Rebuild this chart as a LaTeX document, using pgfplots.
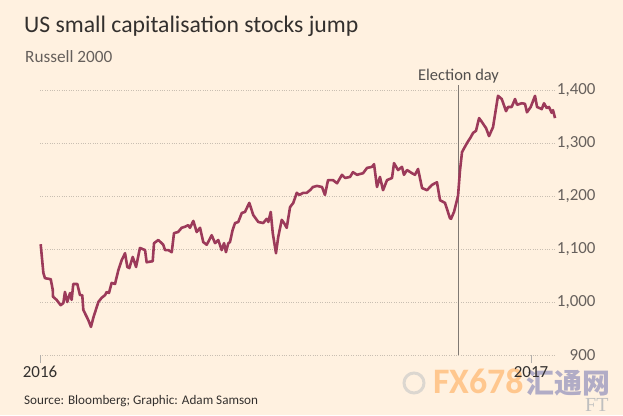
\documentclass[border=0pt]{standalone}
\usepackage{pgfplots}
\pgfplotsset{compat=1.18}
\usepackage{fontspec}
\setmainfont{Carlito}
\newfontfamily\cjk{Noto Sans CJK SC}
\newfontfamily\serifft{Liberation Serif}
\definecolor{bg}{HTML}{FFF1E0}
\definecolor{linec}{HTML}{9C3A5A}
\definecolor{titlec}{HTML}{33302E}
\definecolor{textc}{HTML}{66605C}
\definecolor{gridc}{HTML}{C9BFB2}
\definecolor{evc}{HTML}{807973}
\pgfplotstableread{
day value
0.5 1109
2.5 1055
3.7 1045
8.0 1043
9.5 1023
9.7 1010
12.4 1004
15.4 994
17.4 998
18.6 1019
20.3 1000
22.4 1017
23.6 1004
24.8 1034
27.8 1034
29.8 1013
31.5 1013
32.3 985
36.0 966
38.0 953
39.7 970
43.5 1000
46.0 1008
48.5 1013
49.7 1019
51.4 1017
53.4 1036
55.9 1034
58.4 1060
60.9 1079
63.4 1092
65.1 1066
66.6 1064
69.1 1085
71.6 1066
74.5 1102
78.3 1098
79.5 1075
84.0 1077
85.0 1111
88.2 1117
91.9 1108
93.2 1098
95.6 1098
98.2 1094
99.9 1130
102.9 1132
105.6 1140
108.1 1142
110.5 1145
111.8 1140
114.3 1153
116.8 1132
119.3 1140
121.7 1113
124.3 1108
128.0 1126
130.5 1111
132.9 1117
135.4 1098
137.2 1111
138.6 1094
140.4 1111
141.6 1113
143.6 1136
145.4 1149
147.8 1151
150.4 1168
152.8 1170
156.0 1187
159.0 1164
162.7 1151
166.4 1149
169.0 1157
170.2 1151
172.0 1170
173.5 1130
175.9 1092
177.6 1123
180.2 1155
181.9 1149
183.9 1140
186.4 1179
188.8 1187
191.4 1206
193.3 1202
196.3 1206
198.8 1206
201.3 1211
203.5 1217
206.5 1219
210.2 1217
212.4 1202
214.7 1230
218.4 1230
221.4 1224
225.1 1240
227.4 1234
231.1 1236
233.3 1245
236.3 1240
240.8 1243
243.8 1253
247.5 1255
249.0 1260
251.2 1217
253.4 1236
255.7 1211
258.7 1230
262.4 1234
263.9 1262
266.9 1249
269.8 1255
271.3 1240
273.6 1249
277.3 1243
279.5 1240
281.8 1251
284.8 1215
288.5 1211
292.2 1221
295.9 1226
298.2 1192
301.9 1187
305.6 1158
306.4 1157
308.6 1170
311.6 1200
313.1 1249
314.6 1283
318.3 1300
321.1 1311
322.8 1319
325.0 1323
327.3 1347
329.3 1340
332.5 1328
334.7 1313
337.7 1330
341.4 1389
344.2 1383
347.4 1360
348.9 1368
351.6 1368
354.1 1383
355.6 1372
359.1 1375
361.5 1374
363.0 1358
365.8 1368
369.0 1389
370.5 1368
374.0 1364
375.7 1375
377.7 1366
379.4 1368
381.4 1357
382.4 1362
383.9 1347
}\russell
\begin{document}
\begin{tikzpicture}[x=1bp,y=1bp]
\fill[bg] (0,0) rectangle (623,415);
% title
\node[anchor=base west, inner sep=0pt, text=titlec, font=\fontsize{23.8}{28}\selectfont] at (24,383) {US small capitalisation stocks jump};
\node[anchor=base west, inner sep=0pt, text=textc, font=\fontsize{17.3}{20}\selectfont] at (25,353) {Russell 2000};
\node[anchor=base west, inner sep=0pt, text=titlec, font=\fontsize{13.2}{16}\selectfont] at (24,11) {Source: Bloomberg; Graphic: Adam Samson};
% watermark
\draw[gray!45, line width=3bp, opacity=0.6] (414,32) circle (10);
\node[anchor=base west, inner sep=0pt, text=orange!55, opacity=0.75, font=\fontsize{36}{40}\selectfont\bfseries] at (433,22) {FX678};
\node[anchor=base west, inner sep=0pt, text=blue!25!gray!70, opacity=0.7, font=\cjk\fontsize{28}{32}\selectfont\bfseries] at (526,22) {汇通网};
\node[anchor=base west, inner sep=0pt, text=gray!50, font=\serifft\fontsize{20}{22}\selectfont] at (585,4) {FT};
\begin{axis}[
  at={(40bp,60bp)}, anchor=south west,
  scale only axis, width=515bp, height=265bp,
  xmin=0, xmax=383.9, ymin=900, ymax=1400,
  clip=false,
  axis x line*=bottom, axis y line*=right,
  axis line style={draw=none},
  xtick={0,366}, xticklabels={2016,2017},
  ytick={900,1000,1100,1200,1300,1400},
  ymajorgrids, grid style={dotted, gridc, line width=0.9bp},
  ytick style={draw=none},
  xtick style={draw=evc!60, line width=0.6bp},
  xtick align=outside, major tick length=8bp,
  tick label style={text=textc, font=\fontsize{17}{19}\selectfont},
  xticklabel style={text=titlec},
  yticklabel style={anchor=east, xshift=44bp},
  /pgf/number format/assume math mode=true,
  /pgf/number format/1000 sep={,},
]
\draw[evc, line width=0.9bp] (axis cs:312,900) -- (axis cs:312,1410);
\node[anchor=base, inner sep=0pt, text=titlec!85, font=\fontsize{16.5}{19}\selectfont] at (axis cs:312,1417) {Election day};
\addplot[linec, line width=2.6bp, line join=round, mark=none] table[x=day, y=value] {\russell};
\end{axis}
\pgfresetboundingbox
\path (0,0) rectangle (623,415);
\end{tikzpicture}
\end{document}
